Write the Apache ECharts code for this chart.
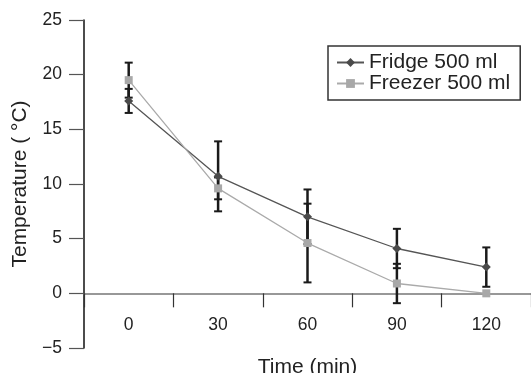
<!DOCTYPE html>
<html>
<head>
<meta charset="utf-8">
<script src="https://cdn.jsdelivr.net/npm/echarts@6/dist/echarts.min.js"></script>
<style>
html,body{margin:0;padding:0;background:#fff;}
#chart{width:531px;height:373px;}
</style>
</head>
<body>
<div id="chart"></div>
<script>
var categories = ['0', '30', '60', '90', '120'];
var fridgeMean = [17.6, 10.7, 7.0, 4.1, 2.4];
var fridgeErr = [1.1, 3.2, 2.5, 1.8, 1.8];
var freezerMean = [19.5, 9.6, 4.6, 0.9, 0.0];
var freezerErr = [1.6, 1.0, 3.6, 1.8, 0.0];
var yTicks = { min: -5, max: 25, interval: 5 };

function errData(mean, err) {
  return mean.map(function (m, i) { return [i, m - err[i], m + err[i]]; });
}

function renderErr(params, api) {
  var i = api.value(0);
  var lo = api.coord([i, api.value(1)]);
  var hi = api.coord([i, api.value(2)]);
  if (Math.abs(hi[1] - lo[1]) < 0.5) return null;
  var cw = 4;
  var st = { stroke: '#1a1a1a', lineWidth: 2.5 };
  return {
    type: 'group',
    children: [
      { type: 'line', shape: { x1: lo[0], y1: lo[1], x2: hi[0], y2: hi[1] }, style: st },
      { type: 'line', shape: { x1: lo[0] - cw, y1: lo[1], x2: lo[0] + cw, y2: lo[1] }, style: { stroke: '#1a1a1a', lineWidth: 2 } },
      { type: 'line', shape: { x1: hi[0] - cw, y1: hi[1], x2: hi[0] + cw, y2: hi[1] }, style: { stroke: '#1a1a1a', lineWidth: 2 } }
    ]
  };
}

var chart = echarts.init(document.getElementById('chart'), null, { renderer: 'canvas' });
chart.setOption({
  animation: false,
  backgroundColor: '#ffffff',
  textStyle: { fontFamily: 'Liberation Sans', color: '#222' },
  grid: { left: 84, right: 0, top: 20, bottom: 25, containLabel: false, outerBoundsMode: 'none' },
  legend: {
    orient: 'vertical',
    left: 328, top: 46,
    padding: [6, 10, 6, 8],
    itemGap: 0,
    itemWidth: 27, itemHeight: 11,
    borderColor: '#333', borderWidth: 1.5,
    textStyle: { fontSize: 21, color: '#222', fontFamily: 'Liberation Sans' },
    data: ['Fridge 500 ml', 'Freezer 500 ml']
  },
  xAxis: {
    type: 'category',
    data: categories,
    boundaryGap: true,
    name: 'Time (min)',
    nameLocation: 'middle',
    nameGap: 9,
    nameTextStyle: { fontSize: 21, color: '#222' },
    axisLine: { onZero: true, lineStyle: { color: '#777', width: 1.5 } },
    axisTick: { show: true, length: 14, lineStyle: { color: '#333', width: 1.2 } },
    axisLabel: { fontSize: 17.5, color: '#222', margin: -32 },
    splitLine: { show: false }
  },
  yAxis: {
    type: 'value',
    min: yTicks.min, max: yTicks.max, interval: yTicks.interval,
    name: 'Temperature ( °C)',
    nameLocation: 'middle',
    nameGap: 52,
    nameTextStyle: { fontSize: 21, color: '#222' },
    axisLine: { show: true, lineStyle: { color: '#111', width: 1.5 } },
    axisTick: { show: true, length: 15, lineStyle: { color: '#555', width: 1.2 } },
    axisLabel: { fontSize: 17.5, color: '#222', margin: 22,
      formatter: function (v) { return String(v).replace('-', '\u2212'); } },
    splitLine: { show: false }
  },
  series: [
    {
      type: 'custom', name: 'fridgeErr', renderItem: renderErr, z: 2,
      encode: { x: 0, y: [1, 2] }, data: errData(fridgeMean, fridgeErr), silent: true
    },
    {
      type: 'custom', name: 'freezerErr', renderItem: renderErr, z: 2,
      encode: { x: 0, y: [1, 2] }, data: errData(freezerMean, freezerErr), silent: true
    },
    {
      type: 'line', name: 'Fridge 500 ml', data: fridgeMean, z: 3,
      symbol: 'diamond', symbolSize: 9, showAllSymbol: true,
      itemStyle: { color: '#4a4a4a' },
      lineStyle: { color: '#555', width: 1.3 }
    },
    {
      type: 'line', name: 'Freezer 500 ml', data: freezerMean, z: 4,
      symbol: 'rect', symbolSize: 8, showAllSymbol: true,
      itemStyle: { color: '#a8a8a8' },
      lineStyle: { color: '#aaa', width: 1.3 }
    }
  ]
});
</script>
</body>
</html>
